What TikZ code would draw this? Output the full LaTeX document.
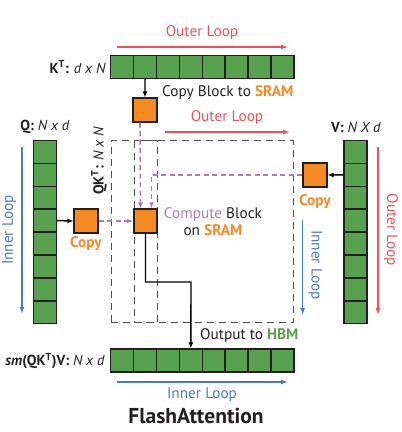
\documentclass[tikz,border=0pt]{standalone}
\usepackage{fontspec}
\setmainfont{PT Sans}
\usetikzlibrary{arrows.meta,calc}
\definecolor{cgreen}{HTML}{58A14E}
\definecolor{cdark}{HTML}{231F20}
\definecolor{corange}{HTML}{F58A22}
\definecolor{cred}{HTML}{E8545E}
\definecolor{cblue}{HTML}{4A7DB8}
\definecolor{cpurple}{HTML}{B17BB0}
\tikzset{
  cell/.style={draw=cdark,fill=cgreen,minimum size=22.9pt,inner sep=0pt,line width=1.5pt},
  obox/.style={draw=cdark,fill=corange,minimum size=23.5pt,inner sep=0pt,line width=1.6pt},
  lbl/.style={font=\fontsize{14.5}{15}\selectfont,inner sep=0pt,text=cdark},
  loopt/.style={font=\fontsize{15.3}{17}\selectfont,inner sep=0pt,text=cdark},
  redarr/.style={draw=cred,line width=1.3pt,-{Latex[length=7pt,width=5pt]}},
  bluearr/.style={draw=cblue,line width=1.3pt,-{Latex[length=7pt,width=5pt]}},
  blackarr/.style={draw=black,line width=1.4pt,-{Latex[length=6pt,width=5pt]}},
  purparr/.style={draw=cpurple,line width=1.6pt,dash pattern=on 5pt off 3.5pt,-{Latex[length=6pt,width=5pt]}},
  region/.style={draw=cdark!80,line width=1pt,dash pattern=on 7pt off 5pt},
}
\begin{document}
\begin{tikzpicture}[x=1pt,y=-1pt]
\useasboundingbox (0,0) rectangle (402,432);
% bars
\foreach \i in {1,...,8} {
  \node[cell] (kt\i) at ({110.7+22.9*(\i-0.5)},67) {};
  \node[cell] (q\i) at (45,{140.5+22.9*(\i-0.5)}) {};
  \node[cell] (v\i) at (355.5,{140.5+22.9*(\i-0.5)}) {};
  \node[cell] (o\i) at ({110.7+22.9*(\i-0.5)},360.5) {};
}
% dashed regions
\node[region,minimum width=182pt,minimum height=182pt,inner sep=0pt] (qk) at (202,231.5) {};
\node[region,minimum width=23pt,minimum height=182pt,inner sep=0pt] (col) at (145.5,231.5) {};
% orange boxes
\node[obox] (kb) at (145,110) {};
\node[obox] (qb) at (86,221) {};
\node[obox] (cb) at (145.5,221) {};
\node[obox] (vb) at (315,175) {};
% labels
\node[lbl,anchor=east] (ktl) at (106,67) {\textbf{K\textsuperscript{T}:} \textit{d x N}};
\node[lbl] (ql) at (45,127) {\textbf{Q:} \textit{N x d}};
\node[lbl] (vl) at (356,127) {\textbf{V:} \textit{N X d}};
\node[lbl,rotate=90] (qkl) at (99,161) {\textbf{QK\textsuperscript{T}:} \textit{N x N}};
\node[lbl,anchor=east] (ol) at (105,361) {\textbf{\textit{sm}(QK\textsuperscript{T})V:} \textit{N x d}};
\node[loopt,anchor=west] (cbl) at (162,93) {Copy Block to \textcolor{corange}{\textbf{SRAM}}};
\node[loopt,text=corange] (qcopy) at (86,244) {\textbf{Copy}};
\node[loopt,text=corange] (vcopy) at (315,202) {\textbf{Copy}};
\node[loopt,align=center] (comp) at (213,221.5) {\textcolor{cpurple}{Compute} Block\\on \textcolor{corange}{\textbf{SRAM}}};
\node[loopt,anchor=west] (oth) at (200,336) {Output to \textcolor{cgreen}{\textbf{HBM}}};
\node[font=\fontsize{21.5}{22}\selectfont\bfseries,inner sep=0pt,text=cdark] (title) at (196,416) {FlashAttention};
% loop arrows
\coordinate (r1a) at (117,47); \coordinate (r1b) at (288,47);
\draw[redarr] (r1a) -- (r1b);
\node[loopt,text=cred] (r1t) at (202,33) {Outer Loop};
\coordinate (r2a) at (165,132); \coordinate (r2b) at (290,132);
\draw[redarr] (r2a) -- (r2b);
\node[loopt,text=cred] (r2t) at (227,118) {Outer Loop};
\coordinate (b1a) at (22,147); \coordinate (b1b) at (22,314);
\draw[bluearr] (b1a) -- (b1b);
\node[loopt,text=cblue,rotate=90] (b1t) at (9,230) {Inner Loop};
\coordinate (b2a) at (302.7,220); \coordinate (b2b) at (302.7,315);
\draw[bluearr] (b2a) -- (b2b);
\node[loopt,text=cblue,rotate=-90] (b2t) at (315.5,265) {Inner Loop};
\coordinate (r3a) at (378,147); \coordinate (r3b) at (378,315);
\draw[redarr] (r3a) -- (r3b);
\node[loopt,text=cred,rotate=-90] (r3t) at (391,230) {Outer Loop};
\coordinate (b3a) at (117,382); \coordinate (b3b) at (288,382);
\draw[bluearr] (b3a) -- (b3b);
\node[loopt,text=cblue] (b3t) at (202,395) {Inner Loop};
% connectors
\draw[blackarr] (kt2.south) -- (kb.north);
\draw[blackarr] (q4.east) -- (qb.west);
\draw[blackarr] (v2.west) -- (vb.west -| vb.east);
\draw[purparr] (qb.east) -- (cb.west);
\draw[purparr] ([xshift=-5pt]kb.south) -- ([xshift=-5pt]cb.north);
\draw[purparr] (vb.west) -| ([xshift=6pt]cb.north);
\draw[blackarr] (cb.south) |- (191,282) -- (o4.north);
\end{tikzpicture}
\end{document}
